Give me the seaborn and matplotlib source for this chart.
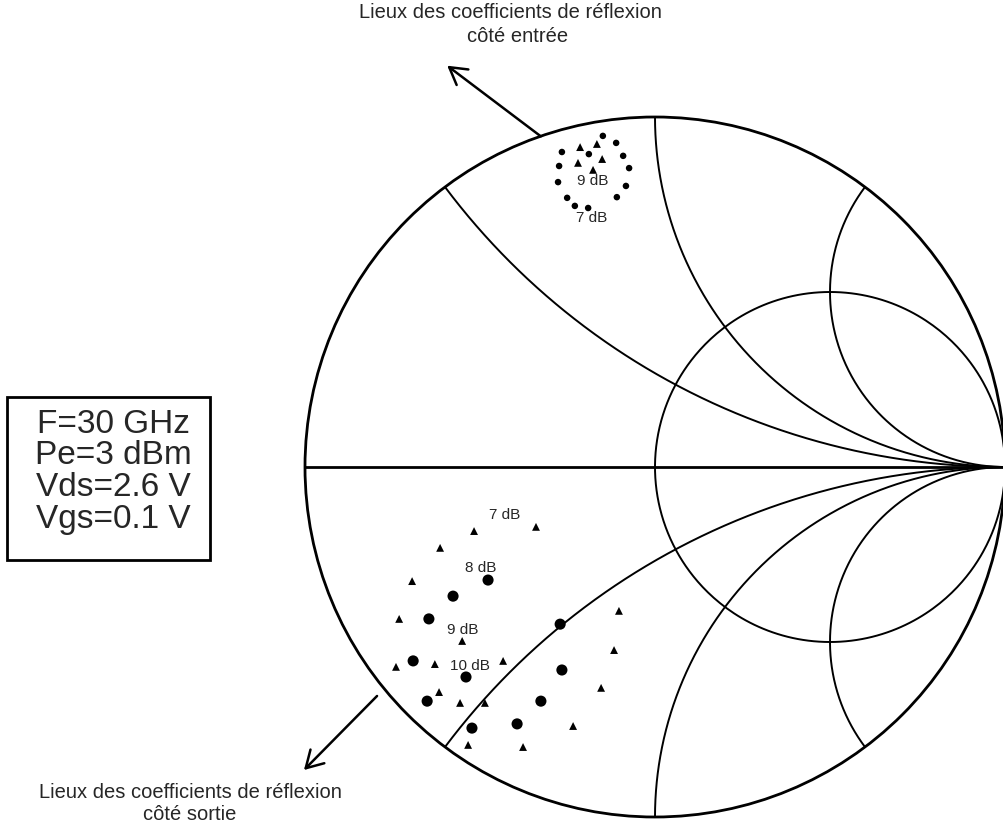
import numpy as np
import pandas as pd
import matplotlib
matplotlib.use("Agg")
import matplotlib.pyplot as plt
import seaborn as sns
from matplotlib.patches import Rectangle, Circle

# Input-side reflection coefficients (real, imaginary)
in_dot_re = [-0.149, -0.111, -0.266, -0.189, -0.091, -0.274, -0.074, -0.277,
             -0.083, -0.251, -0.109, -0.229, -0.191]
in_dot_im = [0.946, 0.926, 0.900, 0.894, 0.889, 0.860, 0.854, 0.814,
             0.803, 0.769, 0.771, 0.746, 0.740]
in_tri_re = [-0.214, -0.166, -0.220, -0.151, -0.177]
in_tri_im = [0.914, 0.923, 0.869, 0.880, 0.849]

# Output-side reflection coefficients (real, imaginary)
out_dot_re = [-0.477, -0.577, -0.646, -0.271, -0.691, -0.540, -0.266, -0.651,
              -0.326, -0.523, -0.394]
out_dot_im = [-0.323, -0.369, -0.434, -0.449, -0.554, -0.600, -0.580, -0.669,
              -0.669, -0.746, -0.734]
out_tri_re = [-0.517, -0.340, -0.614, -0.694, -0.731, -0.551, -0.740, -0.629,
              -0.434, -0.617, -0.557, -0.486, -0.103, -0.117, -0.154, -0.234,
              -0.534, -0.377]
out_tri_im = [-0.183, -0.171, -0.231, -0.326, -0.434, -0.497, -0.571, -0.563,
              -0.554, -0.643, -0.674, -0.674, -0.411, -0.523, -0.631, -0.740,
              -0.794, -0.800]

# Gain contour labels
in_labels = ["9 dB", "7 dB"]
in_label_re = [-0.177, -0.180]
in_label_im = [0.817, 0.711]
out_labels = ["7 dB", "8 dB", "9 dB", "10 dB"]
out_label_re = [-0.429, -0.497, -0.549, -0.529]
out_label_im = [-0.137, -0.289, -0.466, -0.569]

conditions = ["F=30 GHz", "Pe=3 dBm", "Vds=2.6 V", "Vgs=0.1 V"]

# Smith chart grid
r_circles = [1.0]
x_arcs = [0.5, 1.0, 2.0, -0.5, -1.0, -2.0]

sns.set_theme(style="white")
plt.rcParams["font.family"] = ["Liberation Sans", "DejaVu Sans"]

W, H = 1004, 830
fig = plt.figure(figsize=(W / 100, H / 100), dpi=100)
ax = fig.add_axes([0, 0, 1, 1])
ax.set_xlim(-655 / 350, 349 / 350)
ax.set_ylim(-363 / 350, 467 / 350)
ax.set_aspect("equal")
ax.axis("off")


def gamma(z):
    return (z - 1) / (z + 1)


lw_grid = 1.4
# outer circle and real axis
ax.add_patch(Circle((0, 0), 1.0, fill=False, lw=2.0, ec="black", zorder=2))
ax.plot([-1, 1], [0, 0], color="black", lw=2.0, zorder=2)

xs = np.concatenate([-np.logspace(4, -4, 600), np.logspace(-4, 4, 600)])
for r in r_circles:
    g = gamma(r + 1j * xs)
    ax.plot(g.real, g.imag, color="black", lw=lw_grid, zorder=2)

rs = np.concatenate([[0.0], np.logspace(-4, 4, 1200)])
for x in x_arcs:
    g = gamma(rs + 1j * x)
    ax.plot(g.real, g.imag, color="black", lw=lw_grid, zorder=2)

# measured points
df = pd.concat([
    pd.DataFrame({"re": in_dot_re, "im": in_dot_im, "kind": "in_dot"}),
    pd.DataFrame({"re": in_tri_re, "im": in_tri_im, "kind": "in_tri"}),
    pd.DataFrame({"re": out_dot_re, "im": out_dot_im, "kind": "out_dot"}),
    pd.DataFrame({"re": out_tri_re, "im": out_tri_im, "kind": "out_tri"}),
], ignore_index=True)

styles = {
    "in_dot": dict(marker="o", s=22),
    "in_tri": dict(marker="^", s=32),
    "out_dot": dict(marker="o", s=64),
    "out_tri": dict(marker="^", s=32),
}
for kind, st in styles.items():
    sub = df[df["kind"] == kind]
    sns.scatterplot(data=sub, x="re", y="im", ax=ax, color="black",
                    edgecolor="none", legend=False, zorder=4, **st)

for t, x, y in zip(in_labels, in_label_re, in_label_im):
    ax.text(x, y, t, ha="center", va="center", fontsize=11, zorder=5)
for t, x, y in zip(out_labels, out_label_re, out_label_im):
    ax.text(x, y, t, ha="center", va="center", fontsize=11, zorder=5)


def px(xp, yp):
    return (xp - 655) / 350, (467 - yp) / 350


# annotations with arrows
arrow_kw = dict(arrowstyle="->,head_length=0.6,head_width=0.35",
                color="black", lw=1.8, mutation_scale=20)
ax.annotate("", xy=px(445, 64), xytext=px(543, 138), arrowprops=arrow_kw)
ax.annotate("", xy=px(302, 772), xytext=px(379, 694), arrowprops=arrow_kw)

label_fs = 14.5
ax.text(*px(510, 13), "Lieux des coefficients de réflexion", ha="center",
        va="center", fontsize=label_fs)
ax.text(*px(518, 37), "côté entrée", ha="center", va="center",
        fontsize=label_fs)
ax.text(*px(190, 792), "Lieux des coefficients de réflexion", ha="center",
        va="center", fontsize=label_fs)
ax.text(*px(190, 815), "côté sortie", ha="center", va="center",
        fontsize=label_fs)

# operating conditions box
fig.add_artist(Rectangle((7 / W, 1 - 560 / H), 203 / W, 163 / H,
                         transform=fig.transFigure, fill=False, lw=2.0,
                         ec="black"))
for i, t in enumerate(conditions):
    fig.text(113 / W, 1 - (424 + 31.7 * i) / H, t, ha="center", va="center",
             fontsize=24)

fig.savefig("out.png", dpi=100)
